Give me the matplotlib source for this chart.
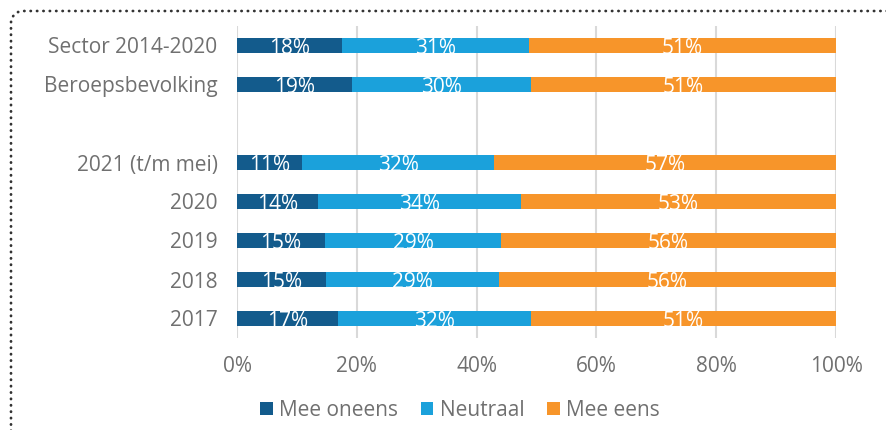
import numpy as np
import matplotlib
matplotlib.use("Agg")
import matplotlib.pyplot as plt
from matplotlib.lines import Line2D
from matplotlib.patches import Patch

categories = ["Sector 2014-2020", "Beroepsbevolking", "", "2021 (t/m mei)",
              "2020", "2019", "2018", "2017"]
mee_oneens = [17.6, 19.2, None, 10.9, 13.6, 14.7, 14.9, 16.9]
neutraal = [31.2, 29.9, None, 32.0, 33.8, 29.4, 28.8, 32.2]
mee_eens = [51.2, 50.9, None, 57.1, 52.6, 55.9, 56.3, 50.9]
series_names = ["Mee oneens", "Neutraal", "Mee eens"]
x_ticks = [0, 20, 40, 60, 80, 100]

colors = ["#135b8c", "#1ba1db", "#f7952a"]
text_gray = "#707070"
W, H = 886, 430
fs = 15

plt.rcParams["font.family"] = ["Open Sans", "DejaVu Sans"]

fig = plt.figure(figsize=(W / 100, H / 100), dpi=100)
ax = fig.add_axes([237 / W, 1 - 338 / H, (836 - 237) / W, (338 - 26) / H])

positions = np.arange(len(categories))
left = np.zeros(len(categories))
for name, values, color in zip(series_names, [mee_oneens, neutraal, mee_eens], colors):
    vals = np.array([v if v is not None else 0.0 for v in values])
    bars = ax.barh(positions, vals, left=left, height=0.4, color=color,
                   label=name, zorder=3)
    for bar, v, l, p in zip(bars, values, left, positions):
        if v is None:
            continue
        # labels sit a bit low and get cut off by the bar edge, as in the original
        t = ax.text(l + v / 2, p + 0.08, f"{v:.0f}%", ha="center", va="center",
                    color="white", fontsize=fs, zorder=4)
        t.set_clip_path(bar)
    left = left + vals

ax.set_xlim(0, 100)
ax.set_ylim(len(categories) - 0.5, -0.5)
ax.set_yticks(positions)
ax.set_yticklabels(categories)
ax.set_xticks(x_ticks)
ax.set_xticklabels([f"{t}%" for t in x_ticks])
ax.tick_params(axis="both", length=0, labelsize=fs, labelcolor=text_gray)
ax.tick_params(axis="x", pad=13)
ax.tick_params(axis="y", pad=14)
ax.grid(axis="x", color="#d9d9d9", linewidth=1.5, zorder=0)
for side in ["top", "right", "bottom", "left"]:
    ax.spines[side].set_visible(False)

handles = [Patch(facecolor=c, edgecolor="none") for c in colors]
fig.legend(handles, series_names, loc="center", bbox_to_anchor=(460 / W, 1 - 410 / H),
           ncol=3, frameon=False, fontsize=fs, labelcolor=text_gray,
           handlelength=0.6, handleheight=0.6, handletextpad=0.3, columnspacing=1.1)

# dotted frame with rounded top-left corner
r = 12
corner = np.linspace(np.pi, np.pi / 2, 20)
xs = np.concatenate([[11], 11 + r + r * np.cos(corner), [W + 5]])
ys = np.concatenate([[H + 5], 11 + r - r * np.sin(corner), [11]])
fig.add_artist(Line2D(xs / W, 1 - ys / H, transform=fig.transFigure,
                      color="#333333", linewidth=2, linestyle=(0, (0.1, 2.2)),
                      dash_capstyle="round"))

fig.savefig("out.png", dpi=100)
